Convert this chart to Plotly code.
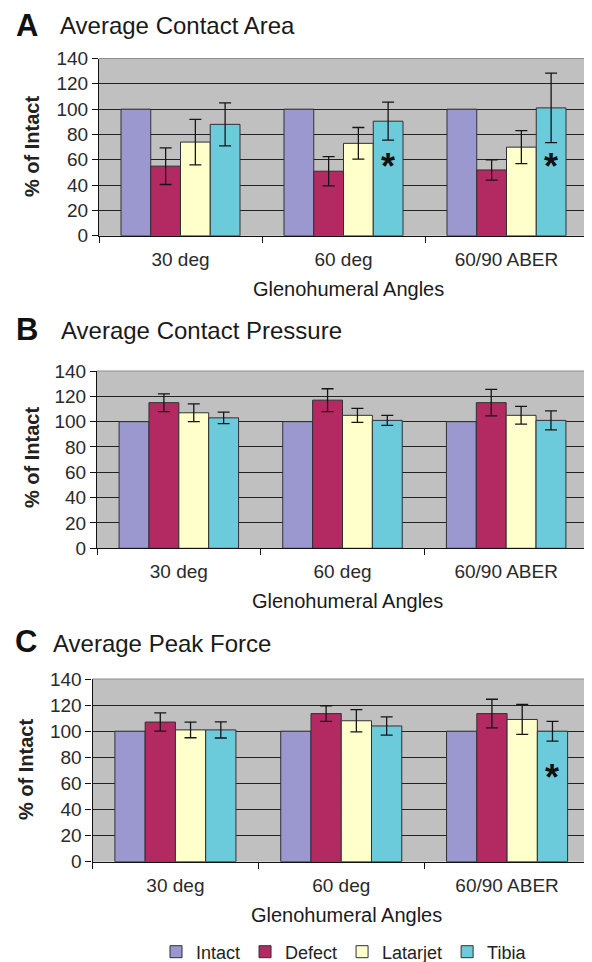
import plotly.graph_objects as go

# The page body has an 8 px margin, so the figure is drawn 8 px smaller
# and every reference-pixel position is offset by 8 px.
PAGE_W, PAGE_H, OFF = 592, 962, 8
W, H = PAGE_W - OFF, PAGE_H - OFF

categories = ["30 deg", "60 deg", "60/90 ABER"]
series_names = ["Intact", "Defect", "Latarjet", "Tibia"]
series_colors = ["#9A98CF", "#B32A62", "#FFFFCC", "#6CCBDB"]

# Panel A: Average Contact Area
area_intact = [100, 100, 100]
area_defect = [55, 51, 52]
area_defect_err = [14.5, 11.5, 8]
area_latarjet = [74, 73, 70]
area_latarjet_err = [18, 12.5, 13]
area_tibia = [88, 90.5, 101]
area_tibia_err = [17, 15, 27.5]

# Panel B: Average Contact Pressure
pressure_intact = [100, 100, 100]
pressure_defect = [115, 117, 115]
pressure_defect_err = [7, 9, 10.5]
pressure_latarjet = [107, 105, 105]
pressure_latarjet_err = [7, 5.5, 7]
pressure_tibia = [103, 101, 101]
pressure_tibia_err = [4.5, 4, 7.5]

# Panel C: Average Peak Force
force_intact = [100, 100, 100]
force_defect = [107, 113.5, 113.5]
force_defect_err = [7, 6, 11]
force_latarjet = [101, 108, 109]
force_latarjet_err = [6, 8.5, 11.5]
force_tibia = [101, 104, 100]
force_tibia_err = [6.2, 7, 7.6]

# significance markers (panel index, category, y position)
star_panel = [0, 0, 2]
star_category = ["60 deg", "60/90 ABER", "60/90 ABER"]
star_y = [60, 60, 70]

panel_letters = ["A", "B", "C"]
panel_titles = ["Average Contact Area", "Average Contact Pressure", "Average Peak Force"]
y_title = "% of Intact"
x_title = "Glenohumeral Angles"
y_ticks = [0, 20, 40, 60, 80, 100, 120, 140]

# layout in page pixels: (left, right, top, bottom) of each plot area
panels_px = [(99, 588, 58.5, 235.8), (97, 588, 371, 548.3), (92.5, 590, 679, 861.7)]
letter_pos = [(27, 25), (27, 329), (26, 641)]
title_x = [58, 59, 51]
title_y = [26, 331, 643]
ytitle_pos = [(32, 147), (32, 458), (26, 770)]
bargap = 0.27

panel_data = [
    ([area_intact, area_defect, area_latarjet, area_tibia],
     [None, area_defect_err, area_latarjet_err, area_tibia_err]),
    ([pressure_intact, pressure_defect, pressure_latarjet, pressure_tibia],
     [None, pressure_defect_err, pressure_latarjet_err, pressure_tibia_err]),
    ([force_intact, force_defect, force_latarjet, force_tibia],
     [None, force_defect_err, force_latarjet_err, force_tibia_err]),
]

def px_x(v):
    return (v - OFF) / W

def px_y(v):
    return 1 - (v - OFF) / H

fig = go.Figure()
FONT = "Liberation Sans, Arial, sans-serif"
annotations = []
shapes = []

for p, (vals, errs) in enumerate(panel_data):
    xa = "x" if p == 0 else f"x{p+1}"
    ya = "y" if p == 0 else f"y{p+1}"
    for s in range(4):
        err = errs[s]
        fig.add_trace(go.Bar(
            x=categories, y=vals[s], name=series_names[s],
            marker=dict(color=series_colors[s], line=dict(color="#303030", width=1)),
            error_y=(dict(type="data", array=err, color="#151515", thickness=1.3, width=6)
                     if err is not None else dict(visible=False)),
            xaxis=xa, yaxis=ya, showlegend=(p == 0), legendgroup=series_names[s],
        ))
    l, r, t, b = panels_px[p]
    xkey = "xaxis" if p == 0 else f"xaxis{p+1}"
    ykey = "yaxis" if p == 0 else f"yaxis{p+1}"
    fig.update_layout({
        xkey: dict(domain=[px_x(l), min(px_x(r), 1)], anchor=ya, type="category", automargin=False,
                   showline=True, linecolor="#111", linewidth=1.2,
                   ticks="outside", tickson="boundaries", ticklen=6, tickcolor="#111",
                   tickfont=dict(family=FONT, size=19, color="#2a2a2a"),
                   ticklabelstandoff=6, showgrid=False),
        ykey: dict(domain=[px_y(b), px_y(t)], anchor=xa, range=[0, 140], automargin=False,
                   tickvals=y_ticks, showline=True, linecolor="#111", linewidth=1.2,
                   ticks="outside", ticklen=6, tickcolor="#111",
                   tickfont=dict(family=FONT, size=19, color="#2a2a2a"),
                   showgrid=True, gridcolor="#222", gridwidth=1.3, zeroline=False),
    })
    shapes.append(dict(type="line", xref=f"{xa} domain", yref=f"{ya} domain",
                       x0=0, x1=1, y0=1, y1=1, line=dict(color="#8c8c8c", width=1)))
    # panel letter & title
    lx, ly = letter_pos[p]
    annotations.append(dict(text=f"<b>{panel_letters[p]}</b>", xref="paper", yref="paper",
                            x=px_x(lx), y=px_y(ly), xanchor="center", yanchor="middle",
                            showarrow=False, font=dict(family=FONT, size=31, color="#111")))
    annotations.append(dict(text=panel_titles[p], xref="paper", yref="paper",
                            x=px_x(title_x[p]), y=px_y(title_y[p]), xanchor="left", yanchor="middle",
                            showarrow=False, font=dict(family=FONT, size=24, color="#1a1a1a")))
    tx, ty = ytitle_pos[p]
    annotations.append(dict(text=f"<b>{y_title}</b>", xref="paper", yref="paper",
                            x=px_x(tx), y=px_y(ty), xanchor="center", yanchor="middle",
                            textangle=-90, showarrow=False,
                            font=dict(family=FONT, size=20, color="#222")))
    annotations.append(dict(text=x_title, xref="paper", yref="paper",
                            x=px_x((l + r) / 2 + 5), y=px_y(b + 53), xanchor="center", yanchor="middle",
                            showarrow=False, font=dict(family=FONT, size=20, color="#1a1a1a")))

# significance asterisks placed over the Tibia bar of the group
for p, cat, yv in zip(star_panel, star_category, star_y):
    l, r, t, b = panels_px[p]
    cat_w = (r - l) / len(categories)
    bar_w = cat_w * (1 - bargap) / len(series_names)
    xa = "x" if p == 0 else f"x{p+1}"
    ya = "y" if p == 0 else f"y{p+1}"
    annotations.append(dict(text="<b>*</b>", xref=xa, yref=ya, x=cat, y=yv,
                            xshift=1.5 * bar_w, yshift=-7, xanchor="center", yanchor="middle",
                            showarrow=False, font=dict(family=FONT, size=36, color="#111")))

fig.update_layout(
    width=W, height=H, margin=dict(l=0, r=0, t=0, b=0, autoexpand=False),
    paper_bgcolor="white", plot_bgcolor="#C0C0C0",
    barmode="group", bargap=bargap, bargroupgap=0,
    annotations=annotations, shapes=shapes,
    legend=dict(orientation="h", x=px_x(344), y=px_y(952), xanchor="center", yanchor="middle",
                xref="container", yref="container",
                font=dict(family=FONT, size=18, color="#222"), traceorder="normal",
                bgcolor="rgba(0,0,0,0)"),
)

fig.write_html("out.html")
